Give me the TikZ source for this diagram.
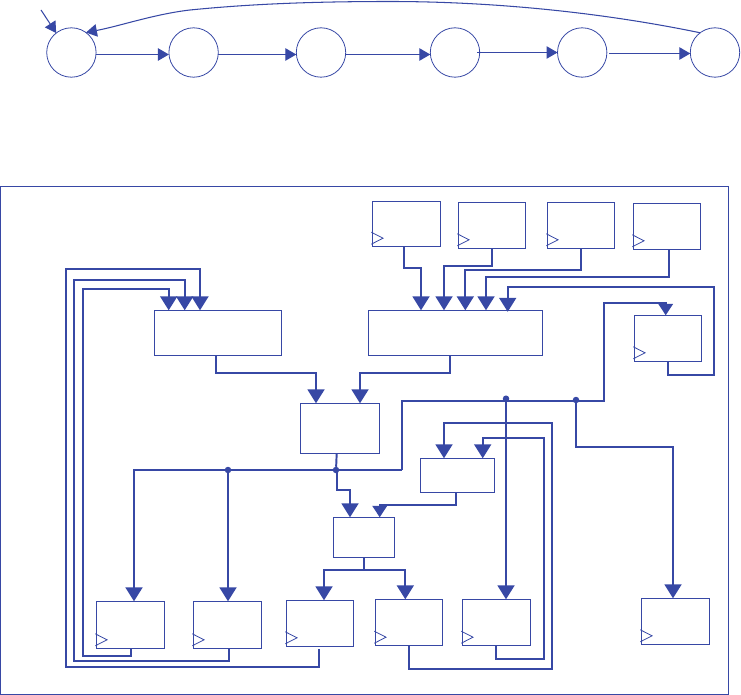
\documentclass[tikz,border=0pt]{standalone}
\usetikzlibrary{arrows.meta}
\definecolor{ink}{HTML}{3748A5}
\tikzset{
  st/.style={draw=ink,circle,line width=.8pt,minimum size=49.4pt,inner sep=0pt,outer sep=0pt},
  blk/.style={draw=ink,rectangle,line width=1pt,inner sep=0pt,outer sep=0pt},
  thin wire/.style={draw=ink,line width=1.05pt,-{Triangle[width=12.5pt,length=11pt]}},
  wire/.style={draw=ink,line width=1.95pt,line join=miter,-{Triangle[width=17pt,length=14pt]}},
  wire small/.style={draw=ink,line width=1.95pt,line join=miter,-{Triangle[width=14.5pt,length=11.5pt]}},
  plain wire/.style={draw=ink,line width=1.95pt},
  jn/.style={fill=ink,circle,minimum size=6.5pt,inner sep=0pt,outer sep=0pt},
  clk/.style={draw=ink,line width=.8pt}
}
\newcommand{\mkblock}[5]{%
  \pgfmathsetmacro{\bw}{#4-#2}\pgfmathsetmacro{\bh}{#5-#3}%
  \pgfmathsetmacro{\bx}{(#2+#4)/2}\pgfmathsetmacro{\by}{(#3+#5)/2}%
  \node[blk,minimum width=\bw pt,minimum height=\bh pt] (#1) at (\bx,\by) {};}
\newcommand{\mkclock}[1]{%
  \draw[clk] ([xshift=-1pt,yshift=2.5pt]#1.south west) -- ([xshift=10.7pt,yshift=8.5pt]#1.south west) -- ([xshift=-1pt,yshift=14.5pt]#1.south west);}
\begin{document}
\begin{tikzpicture}[x=1pt,y=-1pt]
\useasboundingbox (0,0) rectangle (741,695);
% frame
\node[blk,minimum width=728pt,minimum height=507pt,anchor=north west] (frame) at (.5,187) {};
% state machine
\node[st] (c1) at (71.4,52.5) {};
\node[st] (c2) at (193.6,52.5) {};
\node[st] (c3) at (321,52.5) {};
\node[st] (c4) at (455,52.5) {};
\node[st] (c5) at (582.2,52.5) {};
\node[st] (c6) at (715,52.5) {};
\coordinate (entry) at (41,10);
\draw[thin wire] (entry) -- (c1.128);
\draw[thin wire] (c1.east |- 0,54.5) -- (c2.west |- 0,54.5);
\draw[thin wire] (c2.east |- 0,54.5) -- (c3.west |- 0,54.5);
\draw[thin wire] (c3.east |- 0,54.5) -- (c4.west |- 0,54.5);
\draw[thin wire] (477,52.5) -- (c5.west |- 0,52.5);
\draw[thin wire] (609,53.5) -- (c6.west |- 0,53.5);
\draw[thin wire] (c6.127) .. controls (590,10) and (480,1.5) .. (390,1.5)
   .. controls (300,1.5) and (240,5) .. (190,10)
   .. controls (155,14) and (120,26) .. (c1.54);
% blocks
\mkblock{B1}{372.3}{201.3}{440.7}{246.7}
\mkblock{B2}{458.3}{202.3}{525.7}{248.3}
\mkblock{B3}{547.3}{202.3}{614.7}{248.3}
\mkblock{B4}{633.3}{203.3}{700.7}{249.3}
\mkblock{BW}{368.3}{310.3}{542.7}{355.3}
\mkblock{LW}{154.3}{310.3}{281}{355.3}
\mkblock{FB}{634.3}{315.3}{701.7}{361.3}
\mkblock{CM}{300.3}{403.3}{379.7}{453.3}
\mkblock{SR}{420.3}{458.3}{494.7}{492.3}
\mkblock{SL}{333.3}{517.3}{394.7}{557.3}
\mkblock{RA}{96.3}{601.3}{164.7}{648.3}
\mkblock{RB}{193.3}{601.3}{261.7}{648.3}
\mkblock{RC}{286.3}{600.3}{353.7}{646.3}
\mkblock{RD}{375.3}{599.3}{442.7}{645.7}
\mkblock{RE}{462.3}{599.3}{530.7}{645.7}
\mkblock{RF}{641.3}{598.3}{709.7}{644.3}
\foreach \b in {B1,B2,B3,B4,FB,RA,RB,RC,RD,RE,RF}{\mkclock{\b}}
% junctions
\node[jn] (j1) at (228,470) {};
\node[jn] (j2) at (336,470) {};
\node[jn] (j3) at (506,398.7) {};
\node[jn] (j4) at (576,400) {};
% top inputs
\draw[wire] (B1.south -| 403.7,0) |- (421,267.7) -- (BW.north -| 421,0);
\draw[wire] (B2.south -| 492.3,0) |- (444,265.7) -- (BW.north -| 444,0);
\draw[wire] (B3.south -| 581,0) |- (465.3,270) -- (BW.north -| 465.3,0);
\draw[wire] (B4.south -| 669,0) |- (486,277.3) -- (BW.north -| 486,0);
\draw[wire] (FB.south -| 668,0) |- (713.7,375) |- (507.7,287) -- ([yshift=-1.5pt]BW.north -| 507.7,0);
% into centre
\draw[wire] (BW.south -| 450,0) |- (360,372.7) -- (CM.north -| 360,0);
\draw[wire] (LW.south -| 216,0) |- (316,373) -- (CM.north -| 316,0);
% bus
\draw[plain wire] (CM.south -| 336.7,0) -- (j2);
\draw[wire] (j2.center -| 336.7,0) |- (350,489.7) -- (SL.north -| 350,0);
\draw[wire] (j1) -- (RB.north -| j1);
\draw[wire] (401.7,470) -- (134,470) -- (RA.north -| 134,0);
\draw[wire small] (401.7,470) |- (604,401) |- (665.7,303) -- (FB.north -| 665.7,0);
\draw[wire] (j3) -- (RE.north -| j3);
\draw[wire] (j4) |- (673,447) -- (RF.north -| 673,0);
% small blocks
\draw[wire small] (SR.south -| 456,0) |- (379.7,505) -- (SL.north -| 379.7,0);
\draw[wire] (SL.south -| 363.7,0) |- (324,570) -- (RC.north -| 324,0);
\draw[wire] (SL.south -| 363.7,0) |- (405.3,570) -- (RD.north -| 405.3,0);
% feedback
\draw[wire] (RD.south -| 409,0) |- (552,668.7) |- (444,423) -- (SR.north -| 444,0);
\draw[wire] (RE.south -| 496,0) |- (544,658.7) |- (482.7,438) -- (SR.north -| 482.7,0);
\draw[wire] (RA.south -| 131,0) |- (83.3,655.7) |- (168.7,289) -- (LW.north -| 168.7,0);
\draw[wire] (RB.south -| 229,0) |- (74,660.7) |- (184.7,280) -- (LW.north -| 184.7,0);
\draw[wire] (319,649) |- (66,667) |- (200,268.7) -- (LW.north -| 200,0);
\end{tikzpicture}
\end{document}
